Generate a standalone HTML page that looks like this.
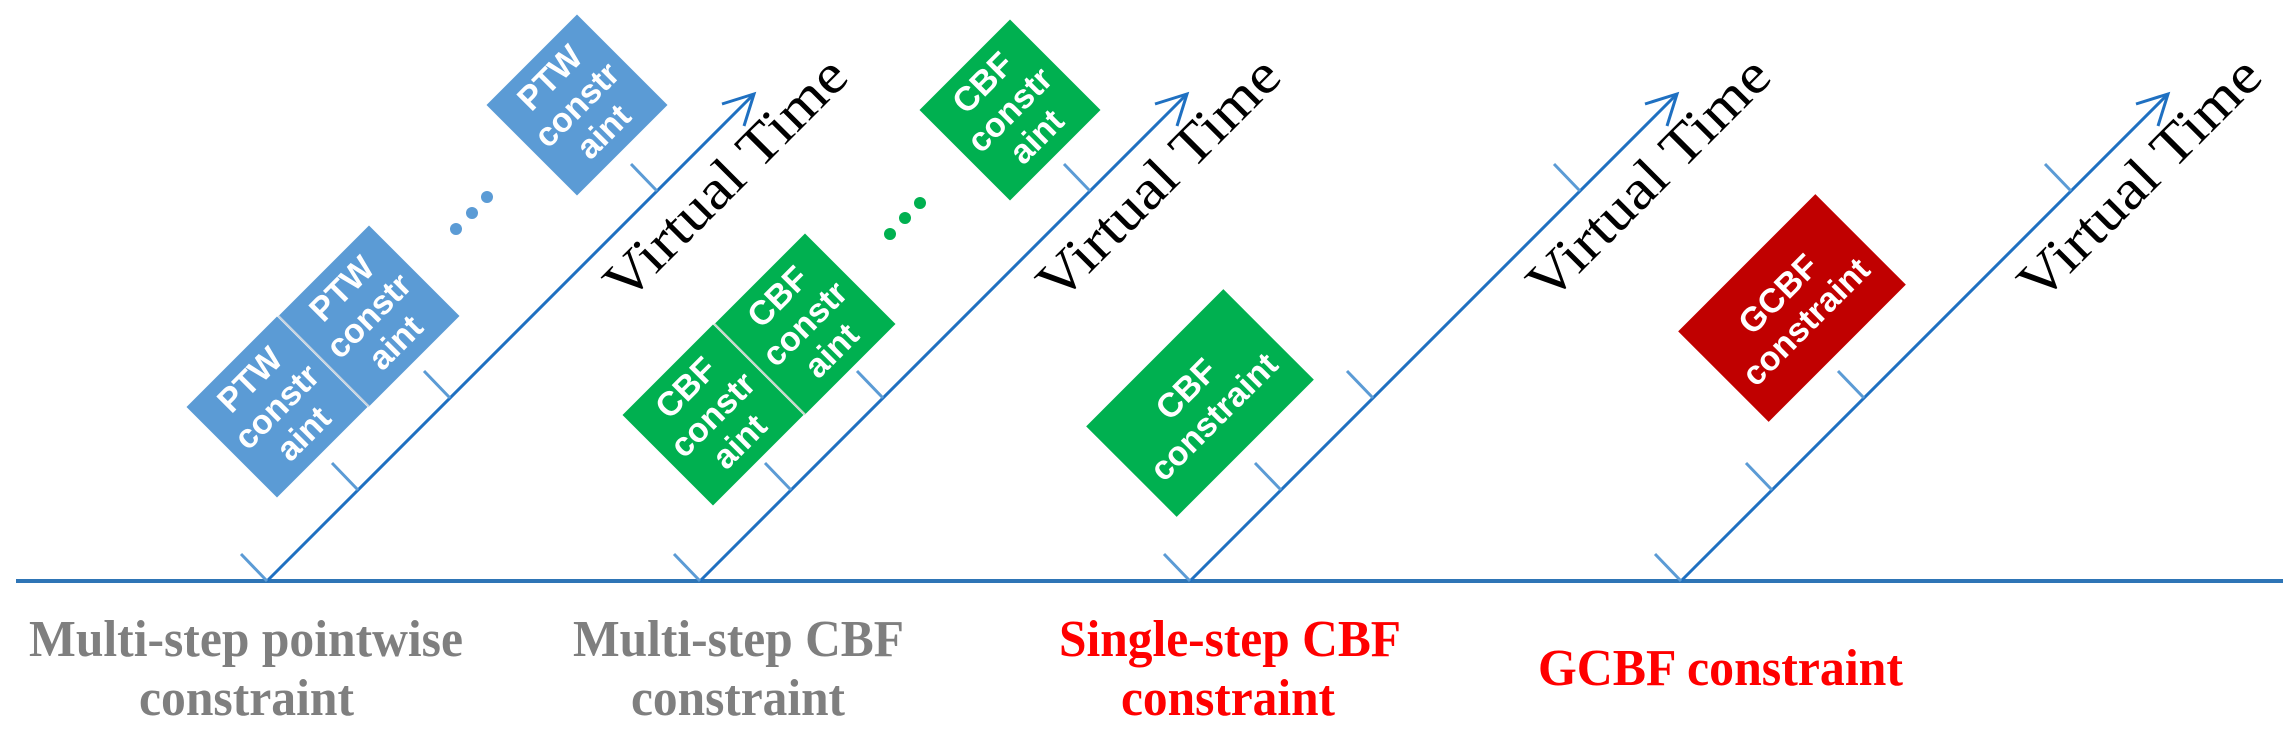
<!DOCTYPE html>
<html><head><meta charset="utf-8"><style>
html,body{margin:0;padding:0;background:#fff;}
svg{display:block;}
.bx{font-family:"Liberation Sans",sans-serif;font-weight:bold;font-size:34px;fill:#fff;text-anchor:middle;}
.vt{font-family:"Liberation Serif",serif;font-size:56px;fill:#000;}
.lb{font-family:"Liberation Serif",serif;font-weight:bold;font-size:52px;}
</style></head><body>
<svg width="2288" height="750" viewBox="0 0 2288 750" xmlns="http://www.w3.org/2000/svg">
<defs>
<g id="axis">
  <line x1="0" y1="0" x2="487" y2="-487" stroke="#1f70c1" stroke-width="3"/>
  <polyline points="455,-477 487,-487 477,-455" fill="none" stroke="#1f70c1" stroke-width="3"/>
  <g stroke="#5b9bd5" stroke-width="3">
    <line x1="0" y1="0" x2="-26" y2="-27"/>
    <line x1="91" y1="-91" x2="65" y2="-118"/>
    <line x1="183" y1="-183" x2="157" y2="-210"/>
    <line x1="390" y1="-390" x2="364" y2="-417"/>
  </g>
  <text class="vt" transform="translate(359,-277) rotate(-45)" textLength="318" lengthAdjust="spacingAndGlyphs">Virtual Time</text>
</g>
</defs>
<line x1="16" y1="581" x2="2283" y2="581" stroke="#2e75b6" stroke-width="4"/>
<use href="#axis" transform="translate(267,581)"/>
<use href="#axis" transform="translate(700,581)"/>
<use href="#axis" transform="translate(1190,581)"/>
<use href="#axis" transform="translate(1681,581)"/>

<!-- PTW boxes -->
<g transform="translate(577,105) rotate(-45)">
  <rect x="-64" y="-64" width="128" height="128" fill="#5b9bd5"/>
  <text class="bx" y="-27">PTW</text><text class="bx" y="11">constr</text><text class="bx" y="49">aint</text>
</g>
<g transform="translate(277,407) rotate(-45)">
  <rect x="-64" y="-64" width="128" height="128" fill="#5b9bd5"/>
  <text class="bx" y="-27">PTW</text><text class="bx" y="11">constr</text><text class="bx" y="49">aint</text>
</g>
<g transform="translate(369,316) rotate(-45)">
  <rect x="-64" y="-64" width="128" height="128" fill="#5b9bd5"/>
  <line x1="-64" y1="-64" x2="-64" y2="64" stroke="#c8d4e0" stroke-width="2"/>
  <text class="bx" y="-27">PTW</text><text class="bx" y="11">constr</text><text class="bx" y="49">aint</text>
</g>
<g fill="#5b9bd5"><circle cx="456" cy="229" r="6"/><circle cx="472" cy="213" r="6"/><circle cx="487" cy="197" r="6"/></g>

<!-- CBF multi -->
<g transform="translate(1010,110) rotate(-45)">
  <rect x="-64" y="-64" width="128" height="128" fill="#00b050"/>
  <text class="bx" y="-27">CBF</text><text class="bx" y="11">constr</text><text class="bx" y="49">aint</text>
</g>
<g transform="translate(713,415) rotate(-45)">
  <rect x="-64" y="-64" width="128" height="128" fill="#00b050"/>
  <text class="bx" y="-27">CBF</text><text class="bx" y="11">constr</text><text class="bx" y="49">aint</text>
</g>
<g transform="translate(805,324) rotate(-45)">
  <rect x="-64" y="-64" width="128" height="128" fill="#00b050"/>
  <line x1="-64" y1="-64" x2="-64" y2="64" stroke="#c8d8cc" stroke-width="2"/>
  <text class="bx" y="-27">CBF</text><text class="bx" y="11">constr</text><text class="bx" y="49">aint</text>
</g>
<g fill="#00b050"><circle cx="890" cy="234" r="6"/><circle cx="905" cy="218" r="6"/><circle cx="920" cy="203" r="6"/></g>

<!-- single-step CBF -->
<g transform="translate(1200,403) rotate(-45)">
  <rect x="-97" y="-64" width="194" height="128" fill="#00b050"/>
  <text class="bx" y="-8">CBF</text><text class="bx" y="31">constraint</text>
</g>
<!-- GCBF -->
<g transform="translate(1792,308) rotate(-45)">
  <rect x="-97" y="-64" width="194" height="128" fill="#c00000"/>
  <text class="bx" y="-8">GCBF</text><text class="bx" y="31">constraint</text>
</g>

<!-- bottom labels -->
<g class="lb" fill="#7f7f7f">
  <text x="29" y="656" textLength="434" lengthAdjust="spacingAndGlyphs">Multi-step pointwise</text>
  <text x="139" y="715" textLength="215" lengthAdjust="spacingAndGlyphs">constraint</text>
  <text x="573" y="656" textLength="331" lengthAdjust="spacingAndGlyphs">Multi-step CBF</text>
  <text x="631" y="715" textLength="214" lengthAdjust="spacingAndGlyphs">constraint</text>
</g>
<g class="lb" fill="#ff0000">
  <text x="1059" y="656" textLength="342" lengthAdjust="spacingAndGlyphs">Single-step CBF</text>
  <text x="1121" y="715" textLength="214" lengthAdjust="spacingAndGlyphs">constraint</text>
  <text x="1538" y="685" textLength="365" lengthAdjust="spacingAndGlyphs">GCBF constraint</text>
</g>
</svg>
</body></html>
